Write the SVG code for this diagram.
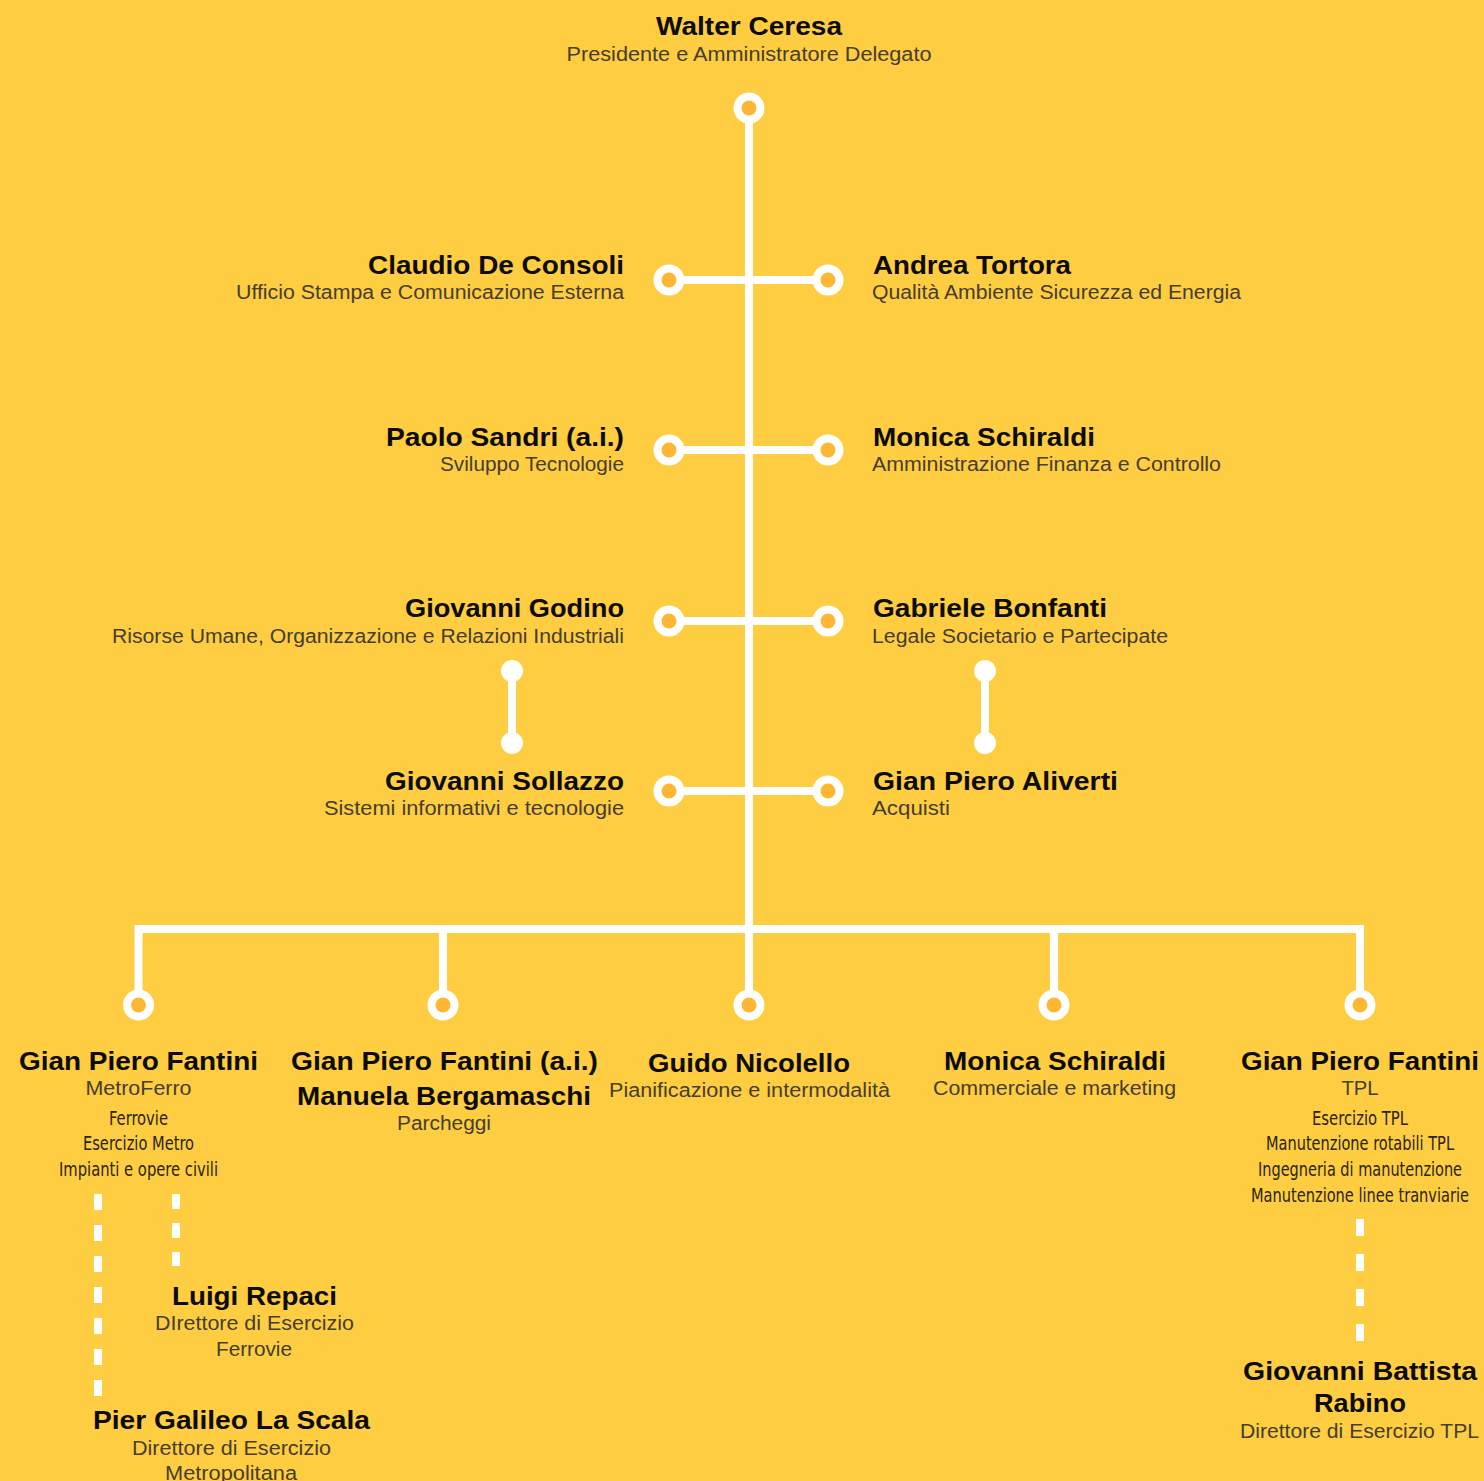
<svg xmlns="http://www.w3.org/2000/svg" xmlns:xlink="http://www.w3.org/1999/xlink" width="1484" height="1481" viewBox="0 0 1484 1481">
<style>
.n{font-family:"Liberation Sans",Arial,sans-serif;font-weight:bold;font-size:26px;fill:#0d0b05}
.s{font-family:"Liberation Sans",Arial,sans-serif;font-size:20px;fill:#463d2a}
.c{font-family:"Liberation Sans Narrow","DejaVu Sans Condensed","Liberation Sans",sans-serif;font-size:19px;fill:#2b2412}
.l{stroke:#fff;stroke-width:8;fill:none}
.d{stroke:#fff;stroke-width:8;fill:none}
</style>
<defs>
<g id="ring"><circle r="15.5" fill="#fff"/><circle r="7.5" fill="#fdb733"/></g>
</defs>
<rect width="1484" height="1481" fill="#fecd41"/>
<g id="connectors">
<line class="l" x1="749" y1="108" x2="749" y2="1005"/>
<line class="l" x1="669" y1="280" x2="828" y2="280"/>
<line class="l" x1="669" y1="450" x2="828" y2="450"/>
<line class="l" x1="669" y1="621" x2="828" y2="621"/>
<line class="l" x1="669" y1="791" x2="828" y2="791"/>
<line class="l" x1="512" y1="671" x2="512" y2="743" stroke-width="7"/>
<line class="l" x1="985" y1="671" x2="985" y2="743" stroke-width="7"/>
<circle cx="512" cy="671" r="11" fill="#fff"/>
<circle cx="512" cy="743" r="11" fill="#fff"/>
<circle cx="985" cy="671" r="11" fill="#fff"/>
<circle cx="985" cy="743" r="11" fill="#fff"/>
<path class="l" d="M138.5 1005 V929 H1360 V1005"/>
<line class="l" x1="443" y1="929" x2="443" y2="1005"/>
<line class="l" x1="1054" y1="929" x2="1054" y2="1005"/>
<line class="d" x1="98" y1="1194" x2="98" y2="1396" stroke-dasharray="16 15"/>
<line class="d" x1="176" y1="1194" x2="176" y2="1266" stroke-dasharray="15 14"/>
<line class="d" x1="1360" y1="1219" x2="1360" y2="1341" stroke-dasharray="17 18"/>
<use xlink:href="#ring" x="749" y="108"/>
<use xlink:href="#ring" x="669" y="280"/><use xlink:href="#ring" x="828" y="280"/>
<use xlink:href="#ring" x="669" y="450"/><use xlink:href="#ring" x="828" y="450"/>
<use xlink:href="#ring" x="669" y="621"/><use xlink:href="#ring" x="828" y="621"/>
<use xlink:href="#ring" x="669" y="791"/><use xlink:href="#ring" x="828" y="791"/>
<use xlink:href="#ring" x="138.5" y="1005"/><use xlink:href="#ring" x="443" y="1005"/>
<use xlink:href="#ring" x="749" y="1005"/><use xlink:href="#ring" x="1054" y="1005"/>
<use xlink:href="#ring" x="1360" y="1005"/>
</g>
<g id="ceresa" text-anchor="middle">
<text class="n" x="749" y="35" textLength="186" lengthAdjust="spacingAndGlyphs">Walter Ceresa</text>
<text class="s" x="749" y="61" textLength="365" lengthAdjust="spacingAndGlyphs">Presidente e Amministratore Delegato</text>
</g>
<g id="deconsoli" text-anchor="end">
<text class="n" x="624" y="274" textLength="256" lengthAdjust="spacingAndGlyphs">Claudio De Consoli</text>
<text class="s" x="624" y="299" textLength="388" lengthAdjust="spacingAndGlyphs">Ufficio Stampa e Comunicazione Esterna</text>
</g>
<g id="tortora">
<text class="n" x="873" y="274" textLength="198" lengthAdjust="spacingAndGlyphs">Andrea Tortora</text>
<text class="s" x="872" y="299" textLength="369" lengthAdjust="spacingAndGlyphs">Qualità Ambiente Sicurezza ed Energia</text>
</g>
<g id="sandri" text-anchor="end">
<text class="n" x="624" y="446" textLength="238" lengthAdjust="spacingAndGlyphs">Paolo Sandri (a.i.)</text>
<text class="s" x="624" y="471" textLength="184" lengthAdjust="spacingAndGlyphs">Sviluppo Tecnologie</text>
</g>
<g id="schiraldi1">
<text class="n" x="873" y="446" textLength="222" lengthAdjust="spacingAndGlyphs">Monica Schiraldi</text>
<text class="s" x="872" y="471" textLength="349" lengthAdjust="spacingAndGlyphs">Amministrazione Finanza e Controllo</text>
</g>
<g id="godino" text-anchor="end">
<text class="n" x="624" y="617" textLength="219" lengthAdjust="spacingAndGlyphs">Giovanni Godino</text>
<text class="s" x="624" y="643" textLength="512" lengthAdjust="spacingAndGlyphs">Risorse Umane, Organizzazione e Relazioni Industriali</text>
</g>
<g id="bonfanti">
<text class="n" x="873" y="617" textLength="234" lengthAdjust="spacingAndGlyphs">Gabriele Bonfanti</text>
<text class="s" x="872" y="643" textLength="296" lengthAdjust="spacingAndGlyphs">Legale Societario e Partecipate</text>
</g>
<g id="sollazzo" text-anchor="end">
<text class="n" x="624" y="790" textLength="239" lengthAdjust="spacingAndGlyphs">Giovanni Sollazzo</text>
<text class="s" x="624" y="815" textLength="300" lengthAdjust="spacingAndGlyphs">Sistemi informativi e tecnologie</text>
</g>
<g id="aliverti">
<text class="n" x="873" y="790" textLength="245" lengthAdjust="spacingAndGlyphs">Gian Piero Aliverti</text>
<text class="s" x="872" y="815" textLength="78" lengthAdjust="spacingAndGlyphs">Acquisti</text>
</g>
<g id="fantini-metroferro" text-anchor="middle">
<text class="n" x="138.5" y="1070" textLength="239" lengthAdjust="spacingAndGlyphs">Gian Piero Fantini</text>
<text class="s" x="138.5" y="1095" textLength="106" lengthAdjust="spacingAndGlyphs">MetroFerro</text>
<text class="c" x="138.5" y="1125" textLength="59" lengthAdjust="spacingAndGlyphs">Ferrovie</text>
<text class="c" x="138.5" y="1150" textLength="111" lengthAdjust="spacingAndGlyphs">Esercizio Metro</text>
<text class="c" x="138.5" y="1176" textLength="159" lengthAdjust="spacingAndGlyphs">Impianti e opere civili</text>
</g>
<g id="fantini-parcheggi" text-anchor="middle">
<text class="n" x="444.5" y="1070" textLength="307" lengthAdjust="spacingAndGlyphs">Gian Piero Fantini (a.i.)</text>
<text class="n" x="444" y="1105" textLength="294" lengthAdjust="spacingAndGlyphs">Manuela Bergamaschi</text>
<text class="s" x="444" y="1130" textLength="94" lengthAdjust="spacingAndGlyphs">Parcheggi</text>
</g>
<g id="nicolello" text-anchor="middle">
<text class="n" x="749" y="1072" textLength="202" lengthAdjust="spacingAndGlyphs">Guido Nicolello</text>
<text class="s" x="749.5" y="1097" textLength="281" lengthAdjust="spacingAndGlyphs">Pianificazione e intermodalità</text>
</g>
<g id="schiraldi2" text-anchor="middle">
<text class="n" x="1055" y="1070" textLength="222" lengthAdjust="spacingAndGlyphs">Monica Schiraldi</text>
<text class="s" x="1054.5" y="1095" textLength="243" lengthAdjust="spacingAndGlyphs">Commerciale e marketing</text>
</g>
<g id="fantini-tpl" text-anchor="middle">
<text class="n" x="1360" y="1070" textLength="238" lengthAdjust="spacingAndGlyphs">Gian Piero Fantini</text>
<text class="s" x="1360" y="1095" textLength="37" lengthAdjust="spacingAndGlyphs">TPL</text>
<text class="c" x="1360" y="1125" textLength="96" lengthAdjust="spacingAndGlyphs">Esercizio TPL</text>
<text class="c" x="1360" y="1150" textLength="188" lengthAdjust="spacingAndGlyphs">Manutenzione rotabili TPL</text>
<text class="c" x="1360" y="1176" textLength="204" lengthAdjust="spacingAndGlyphs">Ingegneria di manutenzione</text>
<text class="c" x="1360" y="1202" textLength="218" lengthAdjust="spacingAndGlyphs">Manutenzione linee tranviarie</text>
</g>
<g id="repaci" text-anchor="middle">
<text class="n" x="254.5" y="1305" textLength="165" lengthAdjust="spacingAndGlyphs">Luigi Repaci</text>
<text class="s" x="254.5" y="1330" textLength="199" lengthAdjust="spacingAndGlyphs">DIrettore di Esercizio</text>
<text class="s" x="254" y="1356" textLength="76" lengthAdjust="spacingAndGlyphs">Ferrovie</text>
</g>
<g id="lascala" text-anchor="middle">
<text class="n" x="231.5" y="1429" textLength="277" lengthAdjust="spacingAndGlyphs">Pier Galileo La Scala</text>
<text class="s" x="231.5" y="1455" textLength="199" lengthAdjust="spacingAndGlyphs">Direttore di Esercizio</text>
<text class="s" x="231" y="1480" textLength="132" lengthAdjust="spacingAndGlyphs">Metropolitana</text>
</g>
<g id="rabino" text-anchor="middle">
<text class="n" x="1360" y="1380" textLength="234" lengthAdjust="spacingAndGlyphs">Giovanni Battista</text>
<text class="n" x="1360" y="1412" textLength="92" lengthAdjust="spacingAndGlyphs">Rabino</text>
<text class="s" x="1359.5" y="1438" textLength="239" lengthAdjust="spacingAndGlyphs">Direttore di Esercizio TPL</text>
</g>
</svg>
